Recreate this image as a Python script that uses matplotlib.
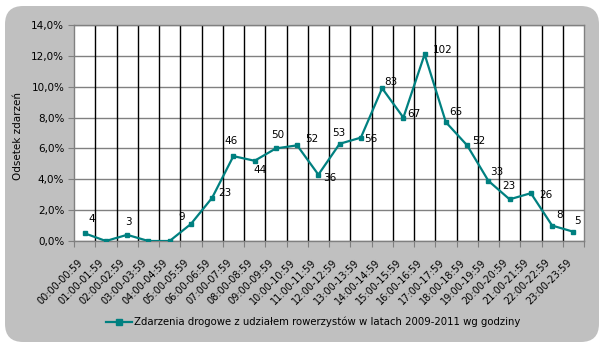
import matplotlib as mpl
mpl.use('Agg')
import matplotlib.pyplot as plt
from matplotlib.patches import FancyBboxPatch
from matplotlib.lines import Line2D
from matplotlib.ticker import FuncFormatter, MultipleLocator

hours = ["%02d:00-%02d:59" % (h, h) for h in range(24)]
counts = [4, 0, 3, 0, 0, 9, 23, 46, 44, 50, 52, 36, 53, 56, 83, 67, 102, 65, 52, 33, 23, 26, 8, 5]
pct = [0.5, 0.0, 0.4, 0.0, 0.0, 1.1, 2.8, 5.5, 5.2, 6.0, 6.2, 4.3, 6.3, 6.7,
       9.9, 8.0, 12.1, 7.7, 6.2, 3.9, 2.7, 3.1, 1.0, 0.6]
# label offsets in pixels (dx, dy up)
offs = [(7, 14), None, (1, 13), None, None, (-9, 7), (13, 5), (-2, 15), (5, -9), (2, 13),
        (15, 6), (11, -3), (-1, 11), (10, -1), (9, 6), (10, 4), (18, 4), (10, 10),
        (12, 4), (8, 9), (-1, 13), (15, -2), (7, 11), (4, 11)]

teal = '#008080'
fig = plt.figure(figsize=(6.06, 3.48), dpi=100)
fig.patch.set_facecolor('white')
bg = FancyBboxPatch((5 / 606, 6 / 348), 594 / 606, 336 / 348,
                    boxstyle="round,pad=0,rounding_size=0.03",
                    transform=fig.transFigure, facecolor='#c0c0c0', edgecolor='none',
                    mutation_aspect=606 / 348, zorder=-10)
fig.patches.append(bg)

ax = fig.add_axes([74 / 606, 1 - 241 / 348, 510 / 606, 216 / 348])
ax.set_facecolor('white')
x = list(range(24))
ax.set_xlim(-0.5, 23.5)
ax.set_ylim(0, 14)

# vertical gridlines at category boundaries
for b in range(1, 24):
    ax.axvline(b - 0.5, color='black', lw=1.0, zorder=1)
ax.yaxis.set_major_locator(MultipleLocator(2))
ax.grid(axis='y', color='#808080', lw=1.0, zorder=1)
ax.set_axisbelow(True)

ax.plot(x, pct, color=teal, lw=1.6, marker='s', ms=3.5, zorder=4)

for i in range(24):
    if offs[i] is None:
        continue
    ax.annotate(str(counts[i]), (x[i], pct[i]), xytext=(offs[i][0] * 0.72, offs[i][1] * 0.72),
                textcoords='offset points', ha='center', va='center', fontsize=7.5, zorder=5)

ax.yaxis.set_major_formatter(FuncFormatter(lambda v, p: ("%.1f%%" % v).replace('.', ',')))
ax.set_xticks([b - 0.5 for b in range(25)], minor=False)
ax.set_xticklabels([])
ax.set_xticks(x, minor=True)
ax.set_xticklabels(hours, minor=True, rotation=45, ha='right', va='top', fontsize=7)
ax.tick_params(axis='x', which='minor', length=0, pad=12)
ax.tick_params(axis='x', which='major', length=4, color='#808080')
ax.tick_params(axis='y', length=4, color='#808080', labelsize=7.5, pad=3)
for s in ax.spines.values():
    s.set_color('#808080')
    s.set_linewidth(1.0)

fig.text(18 / 606, 1 - 136 / 348, 'Odsetek zdarzeń', rotation=90, ha='center', va='center', fontsize=7.5)

h = Line2D([], [], color=teal, lw=1.6, marker='s', ms=4)
fig.legend([h], ['Zdarzenia drogowe z udziałem rowerzystów w latach 2009-2011 wg godziny'],
           loc='center', bbox_to_anchor=(313 / 606, 1 - 322 / 348), frameon=False,
           fontsize=7.3, handlelength=2.6, handletextpad=0.1)

plt.savefig('out.png', dpi=100, facecolor='white')
